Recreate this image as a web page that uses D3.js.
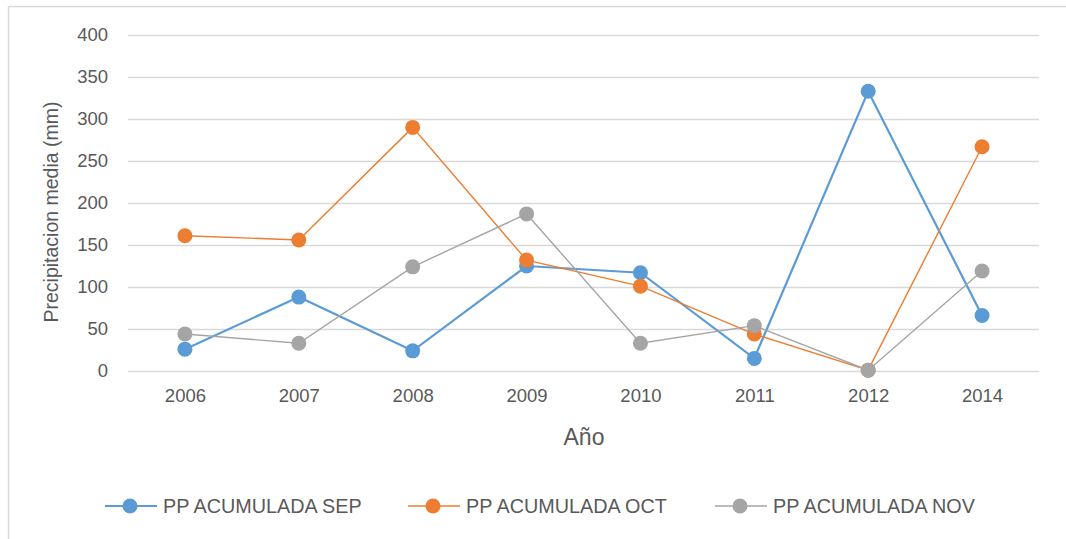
<!DOCTYPE html>
<html>
<head>
<meta charset="utf-8">
<script src="https://cdn.jsdelivr.net/npm/d3@7"></script>
<style>
  body { margin: 0; background: #fff; }
  text { font-family: "Liberation Sans", Arial, sans-serif; fill: #595959; }
</style>
</head>
<body>
<div class="chart"></div>
<script>
// chart data
var years = ["2006", "2007", "2008", "2009", "2010", "2011", "2012", "2014"];
var ppSep = [26, 88, 24, 125, 117, 15, 333, 66];
var ppOct = [161, 156, 290, 132, 101, 44, 1, 267];
var ppNov = [44, 33, 124, 187, 33, 54, 1, 119];
var yTicks = [0, 50, 100, 150, 200, 250, 300, 350, 400];
var seriesNames = ["PP ACUMULADA SEP", "PP ACUMULADA OCT", "PP ACUMULADA NOV"];

var svgWidth = 1066;
var svgHeight = 539;

var margin = { top: 35, right: 27, bottom: 168, left: 128 };
var width = svgWidth - margin.left - margin.right;
var height = svgHeight - margin.top - margin.bottom;

var colors = ["#5B9BD5", "#ED7D31", "#A5A5A5"];
var strokeW = [2.2, 1.4, 1.4];

var svg = d3.select(".chart")
  .append("svg")
  .attr("width", svgWidth)
  .attr("height", svgHeight);

// outer chart border (only left and top visible)
svg.append("line").attr("x1", 8.5).attr("x2", 8.5).attr("y1", 6.5).attr("y2", svgHeight)
  .attr("stroke", "#D9D9D9").attr("stroke-width", 1.5);
svg.append("line").attr("x1", 8.5).attr("x2", svgWidth).attr("y1", 6.5).attr("y2", 6.5)
  .attr("stroke", "#D9D9D9").attr("stroke-width", 1.5);

var chart = svg.append("g")
  .attr("transform", "translate(" + margin.left + "," + margin.top + ")");

var xScale = d3.scalePoint()
  .domain(years)
  .range([0, width])
  .padding(0.5);

var yScale = d3.scaleLinear()
  .domain([0, 400])
  .range([height, 0]);

// gridlines + y labels
var leftAxis = d3.axisLeft(yScale)
  .tickValues(yTicks)
  .tickSize(-width)
  .tickPadding(20);

var yAxisG = chart.append("g").call(leftAxis);
yAxisG.select(".domain").remove();
yAxisG.selectAll(".tick line").attr("stroke", "#D9D9D9").attr("stroke-width", 1.5);
yAxisG.selectAll(".tick text")
  .style("font-family", "Liberation Sans, Arial, sans-serif")
  .style("font-size", "18.5px")
  .attr("fill", "#595959");

// x labels
var bottomAxis = d3.axisBottom(xScale).tickSize(0).tickPadding(18);
var xAxisG = chart.append("g")
  .attr("transform", "translate(0," + height + ")")
  .call(bottomAxis);
xAxisG.select(".domain").remove();
xAxisG.selectAll(".tick text")
  .style("font-family", "Liberation Sans, Arial, sans-serif")
  .style("font-size", "18.5px")
  .attr("fill", "#595959");

// series, in order (later series sit on top like in the original)
var allSeries = [ppSep, ppOct, ppNov];

var line = d3.line()
  .x(function(d, i) { return xScale(years[i]); })
  .y(function(d) { return yScale(d); });

allSeries.forEach(function(values, s) {
  chart.append("path")
    .datum(values)
    .attr("d", line)
    .attr("fill", "none")
    .attr("stroke", colors[s])
    .attr("stroke-width", strokeW[s]);

  chart.selectAll(".dot" + s)
    .data(values)
    .enter().append("circle")
      .attr("class", "dot" + s)
      .attr("cx", function(d, i) { return xScale(years[i]); })
      .attr("cy", function(d) { return yScale(d); })
      .attr("r", 7.5)
      .attr("fill", colors[s]);
});

// axis titles
chart.append("text")
  .attr("x", 584 - margin.left)
  .attr("y", 445 - margin.top)
  .attr("text-anchor", "middle")
  .style("font-size", "23px")
  .text("Año");

chart.append("text")
  .attr("transform", "rotate(-90)")
  .attr("x", 0 - (212 - margin.top))
  .attr("y", 58 - margin.left)
  .attr("text-anchor", "middle")
  .style("font-size", "19.5px")
  .text("Precipitacion media (mm)");

// legend
var legendX = [105, 408, 715];
var legend = svg.append("g");
seriesNames.forEach(function(name, i) {
  var g = legend.append("g").attr("transform", "translate(" + legendX[i] + ",506)");
  g.append("line")
    .attr("x1", 0).attr("x2", 52).attr("y1", 0).attr("y2", 0)
    .attr("stroke", colors[i]).attr("stroke-width", strokeW[i]);
  g.append("circle").attr("cx", 25).attr("cy", 0).attr("r", 7.5).attr("fill", colors[i]);
  g.append("text")
    .attr("x", 58).attr("y", 7)
    .style("font-size", "19.8px")
    .text(name);
});
</script>
</body>
</html>
